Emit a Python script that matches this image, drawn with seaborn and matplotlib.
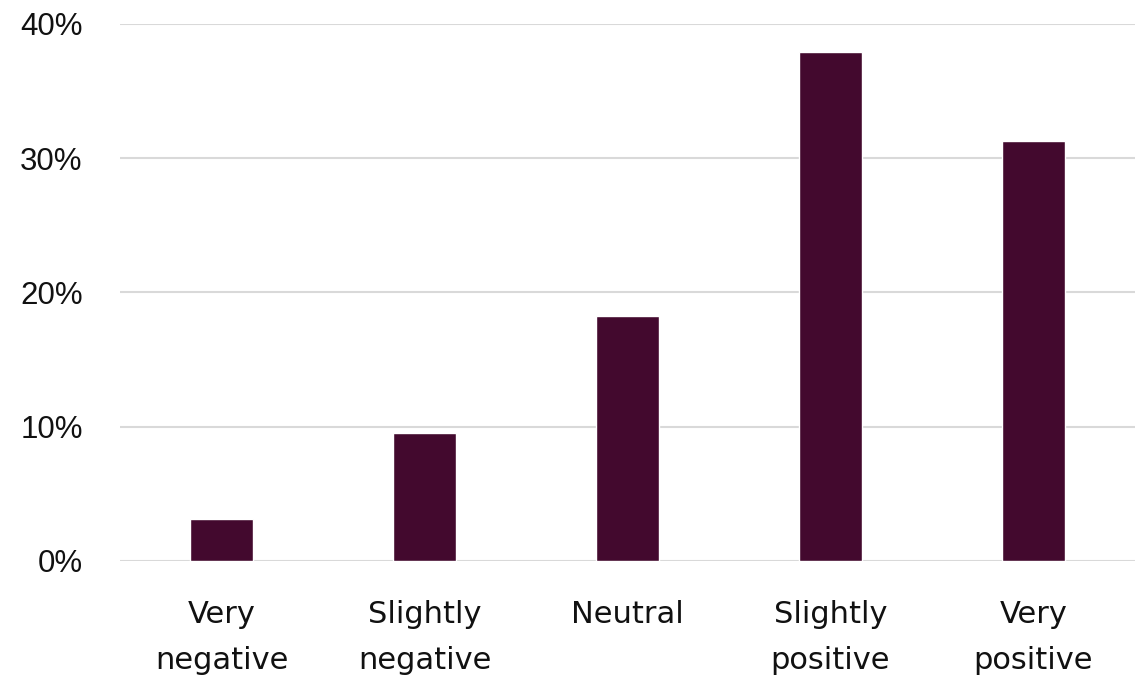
import matplotlib
matplotlib.use("Agg")
import matplotlib.pyplot as plt
import pandas as pd
import seaborn as sns
from matplotlib.ticker import FuncFormatter

categories = ["Very\nnegative", "Slightly\nnegative", "Neutral", "Slightly\npositive", "Very\npositive"]
shares = [3.1, 9.5, 18.2, 37.9, 31.3]
yticks = [0, 10, 20, 30, 40]

df = pd.DataFrame({"category": categories, "share": shares})

sns.set_style("white")
fig = plt.figure(figsize=(11.45, 6.79), dpi=100)
ax = fig.add_axes([0.105, 0.174, 0.886, 0.791])

sns.barplot(data=df, x="category", y="share", color="#43092E", width=0.31,
            saturation=1, ax=ax, zorder=3)

ax.set_ylim(0, 40)
ax.set_xlim(-0.5, 4.5)
ax.set_yticks(yticks)
ax.yaxis.set_major_formatter(FuncFormatter(lambda v, p: f"{v:.0f}%"))
ax.grid(axis="y", color="#D9D9D9", linewidth=1.5, zorder=0)
ax.set_axisbelow(True)
for s in ax.spines.values():
    s.set_visible(False)
ax.tick_params(axis="both", length=0)
ax.tick_params(axis="y", pad=27)
ax.tick_params(axis="x", pad=28)
ax.set_xlabel("")
ax.set_ylabel("")
for lab in ax.get_yticklabels():
    lab.set_fontfamily("Liberation Sans")
    lab.set_fontsize(22.5)
    lab.set_color("#111111")
for lab in ax.get_xticklabels():
    lab.set_fontfamily("DejaVu Sans")
    lab.set_fontsize(22)
    lab.set_color("#111111")
    lab.set_linespacing(1.76)

fig.savefig("out.png", dpi=100)
